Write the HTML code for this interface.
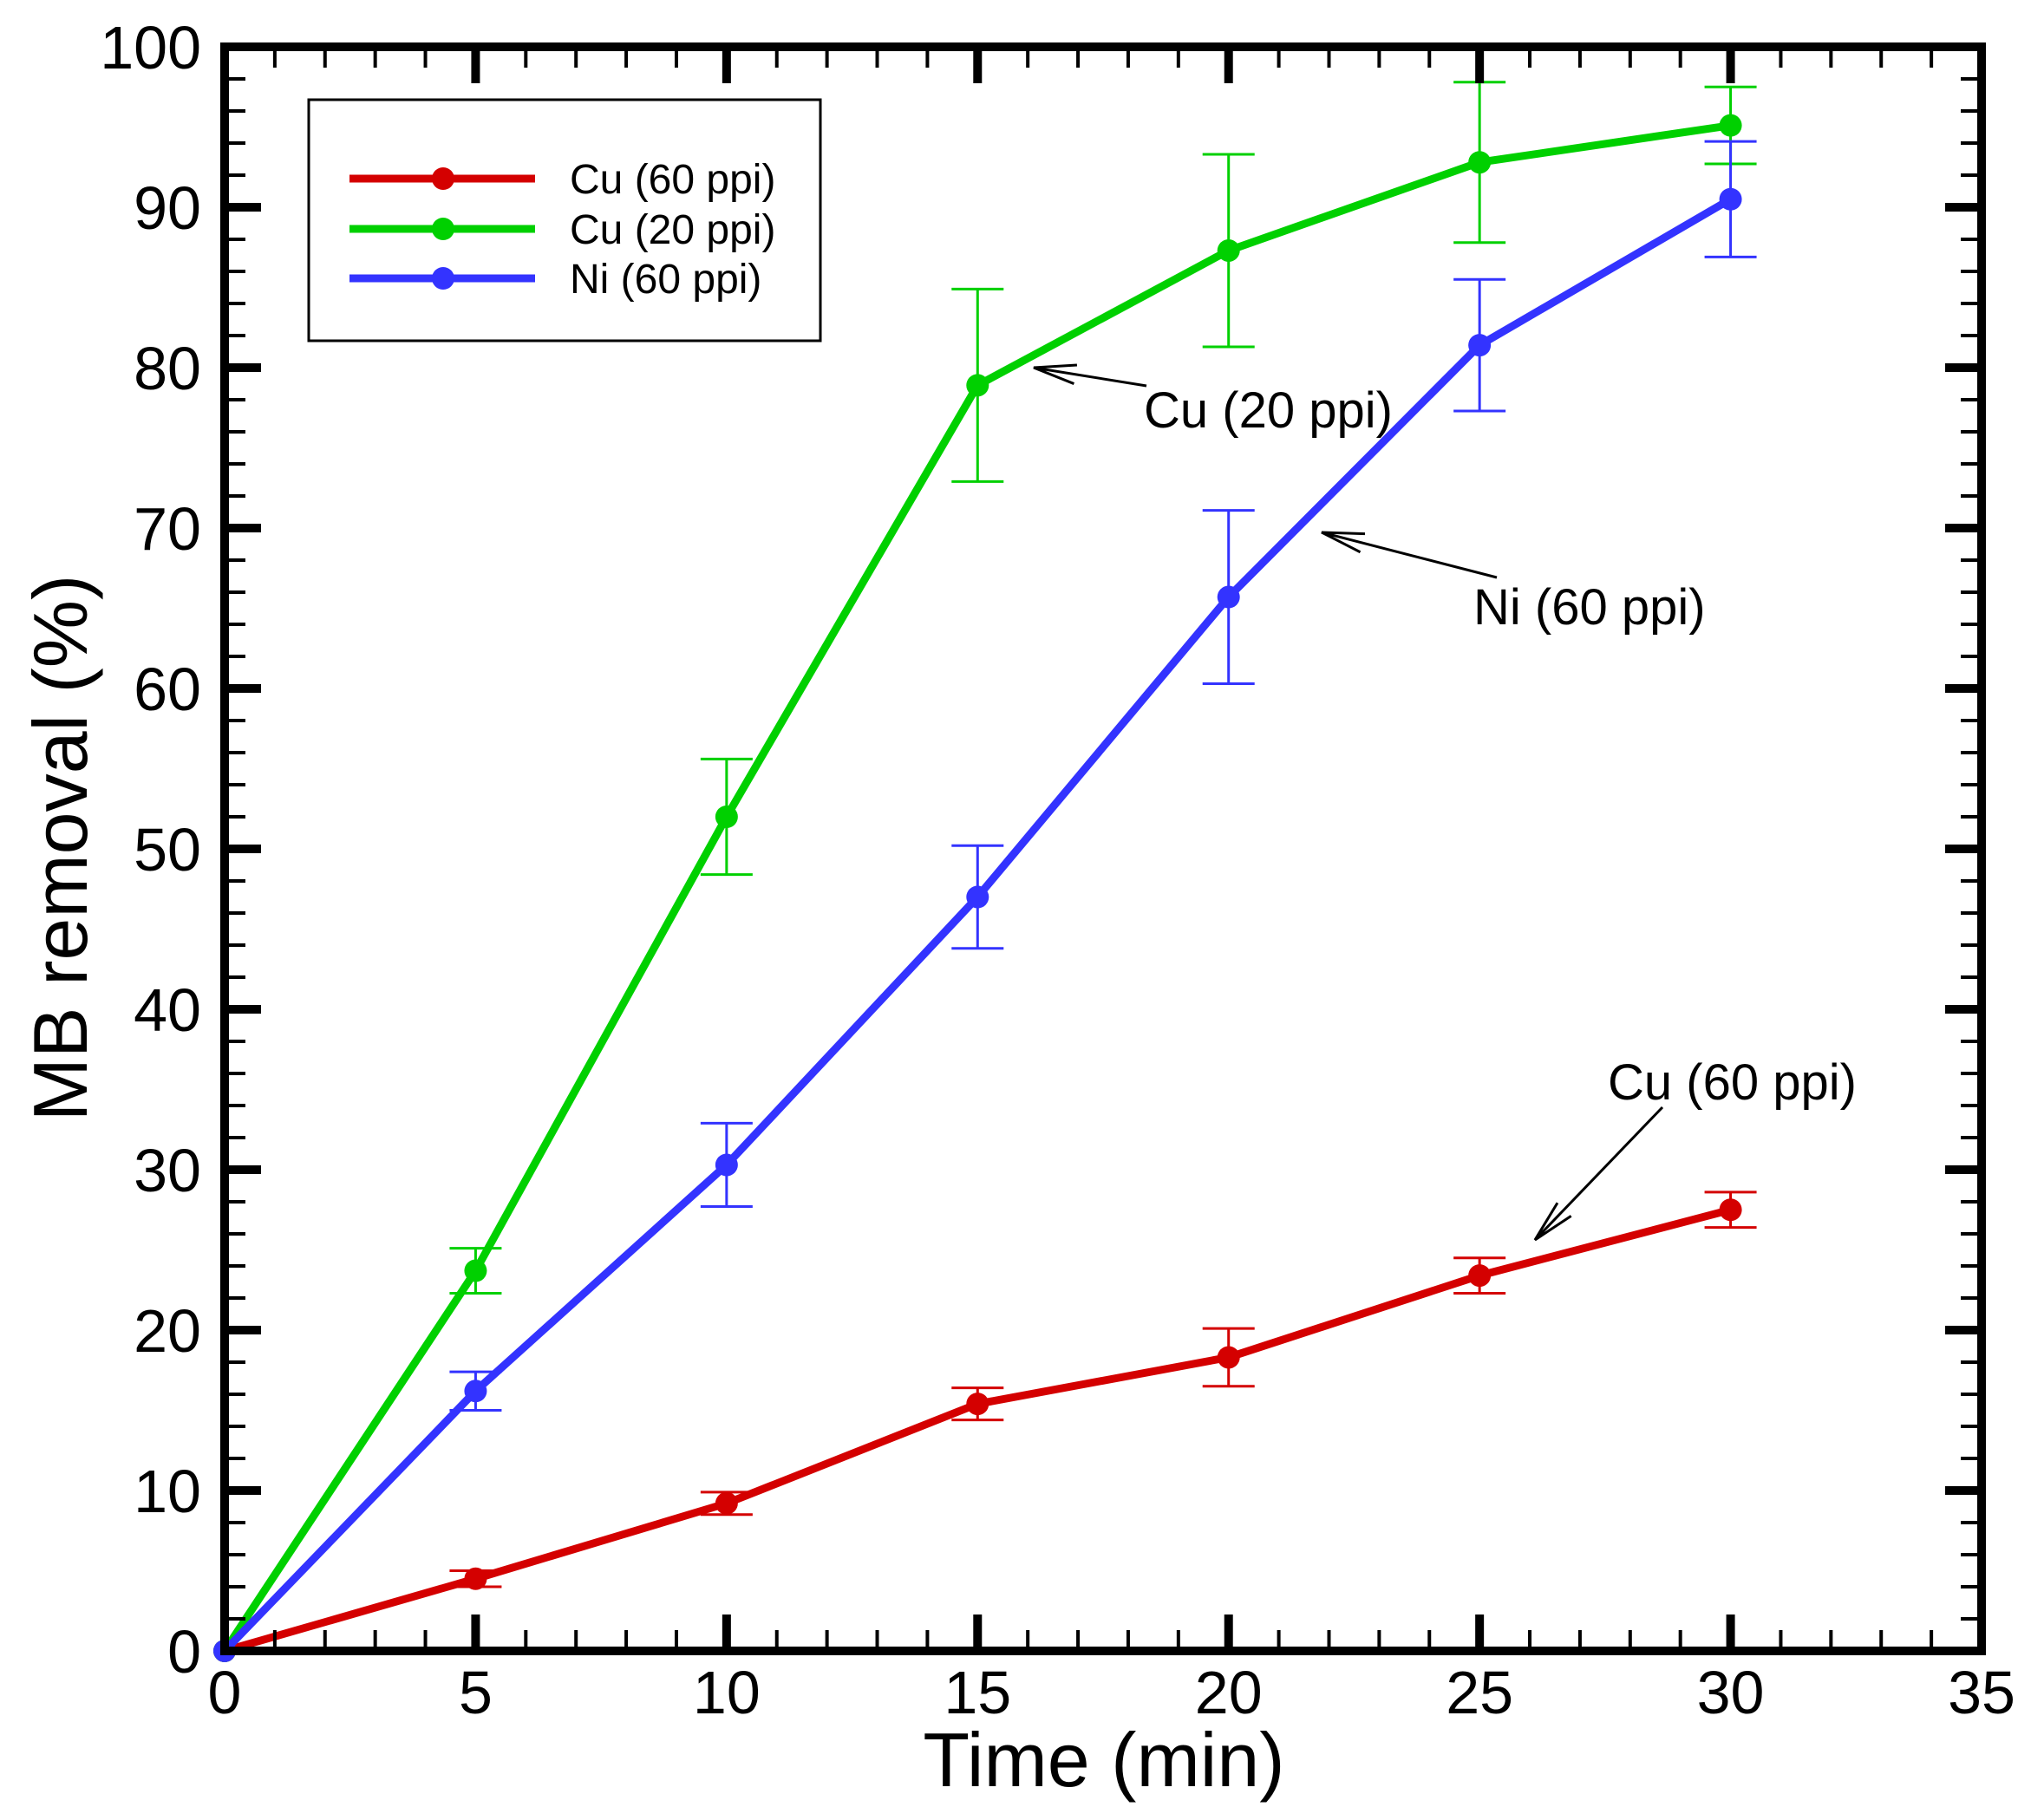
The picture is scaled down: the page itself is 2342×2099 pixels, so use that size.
<!DOCTYPE html>
<html><head><meta charset="utf-8"><style>
html,body{margin:0;padding:0;background:#fff;}
svg{display:block;font-family:"Liberation Sans",Arial,sans-serif;}
</style></head><body>
<svg id="chart" width="2342" height="2099" viewBox="0 0 2342 2099" xmlns="http://www.w3.org/2000/svg">
<g id="grid"></g>
<g id="series"></g>
<g id="axes"></g>
<g id="legend"></g>
<g id="annot"></g>
</svg>
<script>
const times = [0, 5, 10, 15, 20, 25, 30];
const cu60 = [0, 4.5, 9.2, 15.4, 18.3, 23.4, 27.5];
const cu60Err = [0, 0.5, 0.7, 1.0, 1.8, 1.1, 1.1];
const cu20 = [0, 23.7, 52.0, 78.9, 87.3, 92.8, 95.1];
const cu20Err = [0, 1.4, 3.6, 6.0, 6.0, 5.0, 2.4];
const ni60 = [0, 16.2, 30.3, 47.0, 65.7, 81.4, 90.5];
const ni60Err = [0, 1.2, 2.6, 3.2, 5.4, 4.1, 3.6];
const xTicks = [0, 5, 10, 15, 20, 25, 30, 35];
const yTicks = [0, 10, 20, 30, 40, 50, 60, 70, 80, 90, 100];
const seriesNames = ["Cu (60 ppi)", "Cu (20 ppi)", "Ni (60 ppi)"];

const NS = "http://www.w3.org/2000/svg";
const X0 = 259, X1 = 2285, Y0 = 1904, Y1 = 54;
const xs = v => X0 + (v / 35) * (X1 - X0);
const ys = v => Y0 - (v / 100) * (Y0 - Y1);
function mk(tag, attrs, parent) {
  const e = document.createElementNS(NS, tag);
  for (const k in attrs) e.setAttribute(k, attrs[k]);
  parent.appendChild(e);
  return e;
}
const axes = document.getElementById('axes');
const seriesG = document.getElementById('series');

for (let v = 0; v <= 35; v += 1) {
  const major = v % 5 === 0;
  const L = major ? 42 : 24, w = major ? 10 : 4;
  const t1 = mk('line', {x1: xs(v), x2: xs(v), y1: Y0, y2: Y0 - L, stroke: '#000', 'stroke-width': w}, axes);
  
  
  const t2 = mk('line', {x1: xs(v), x2: xs(v), y1: Y1, y2: Y1 + L, stroke: '#000', 'stroke-width': w}, axes);
  
  
}
for (let v = 0; v <= 100; v += 2) {
  const major = v % 10 === 0;
  const L = major ? 42 : 24, w = major ? 10 : 4;
  const t1 = mk('line', {x1: X0, x2: X0 + L, y1: ys(v), y2: ys(v), stroke: '#000', 'stroke-width': w}, axes);
  
  
  const t2 = mk('line', {x1: X1, x2: X1 - L, y1: ys(v), y2: ys(v), stroke: '#000', 'stroke-width': w}, axes);
  
  
}
const frame = mk('rect', {x: X0, y: Y1, width: X1 - X0, height: Y0 - Y1, fill: 'none', stroke: '#000', 'stroke-width': 10}, axes);



xTicks.forEach(v => {
  const t = mk('text', {x: xs(v), y: 1976, 'font-size': 70, 'text-anchor': 'middle'}, axes);
  t.textContent = v;
  
  
});
yTicks.forEach(v => {
  const t = mk('text', {x: 232, y: ys(v) + 25, 'font-size': 70, 'text-anchor': 'end'}, axes);
  t.textContent = v;
  
  
});
const xt = mk('text', {x: 1273, y: 2060, 'font-size': 88, 'text-anchor': 'middle'}, axes);
xt.textContent = 'Time (min)';


const yt = mk('text', {x: 0, y: 0, 'font-size': 88, 'text-anchor': 'middle', transform: 'translate(100,978) rotate(-90)'}, axes);
yt.textContent = 'MB removal (%)';



const all = [[cu60, cu60Err, '#d40000', 'cu-60ppi'], [cu20, cu20Err, '#00d000', 'cu-20ppi'], [ni60, ni60Err, '#3333ff', 'ni-60ppi']];
all.forEach(([vals, errs, col, nm]) => {
  const g = mk('g', {}, seriesG);
  
  
  vals.forEach((v, i) => {
    if (errs[i] <= 0) return;
    const x = xs(times[i]);
    const eb = mk('path', {d: `M${x},${ys(v - errs[i])}V${ys(v + errs[i])}M${x - 30},${ys(v - errs[i])}H${x + 30}M${x - 30},${ys(v + errs[i])}H${x + 30}`, stroke: col, 'stroke-width': 3, fill: 'none'}, g);
    
    
  });
  const pl = mk('polyline', {points: vals.map((v, i) => xs(times[i]) + ',' + ys(v)).join(' '), fill: 'none', stroke: col, 'stroke-width': 9}, g);
  
  
  vals.forEach((v, i) => {
    const c = mk('circle', {cx: xs(times[i]), cy: ys(v), r: 13, fill: col}, g);
    
    
  });
});

const lg = document.getElementById('legend');
mk('rect', {x: 356, y: 115, width: 590, height: 278, fill: '#fff', stroke: '#000', 'stroke-width': 3}, lg);
const lcols = ['#d40000', '#00d000', '#3333ff'];
const lys = [206, 264, 321];
seriesNames.forEach((n, i) => {
  const e = mk('g', {}, lg);
  
  
  mk('line', {x1: 403, x2: 617, y1: lys[i], y2: lys[i], stroke: lcols[i], 'stroke-width': 9}, e);
  mk('circle', {cx: 511, cy: lys[i], r: 13, fill: lcols[i]}, e);
  const t = mk('text', {x: 657, y: lys[i] + 17, 'font-size': 48}, e);
  t.textContent = n;
});

const an = document.getElementById('annot');
function arrow(x1, y1, x2, y2, label, tx, ty) {
  const g = mk('g', {}, an);
  
  
  const a = Math.atan2(y2 - y1, x2 - x1), h = 50, s = 0.22;
  mk('path', {d: `M${x1},${y1}L${x2},${y2}M${x2 - h * Math.cos(a - s)},${y2 - h * Math.sin(a - s)}L${x2},${y2}L${x2 - h * Math.cos(a + s)},${y2 - h * Math.sin(a + s)}`, stroke: '#000', 'stroke-width': 3, fill: 'none'}, g);
  const t = mk('text', {x: tx, y: ty, 'font-size': 58}, g);
  t.textContent = label;
}
arrow(1322, 445, 1192, 424, 'Cu (20 ppi)', 1319, 493);
arrow(1726, 666, 1524, 614, 'Ni (60 ppi)', 1699, 720);
arrow(1917, 1277, 1770, 1430, 'Cu (60 ppi)', 1854, 1268);
</script>
</body></html>
